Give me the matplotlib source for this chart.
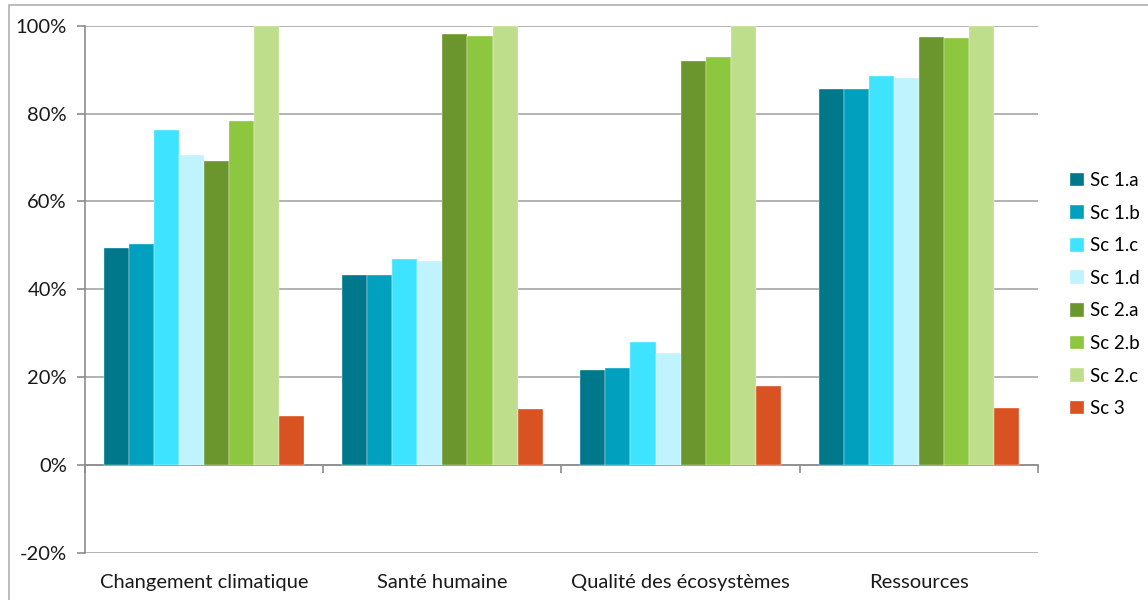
import numpy as np
import matplotlib
matplotlib.use("Agg")
import matplotlib.pyplot as plt
from matplotlib.ticker import PercentFormatter

# Donnees (en %)
categories = ['Changement climatique', 'Santé humaine', 'Qualité des écosystèmes', 'Ressources']
series = ['Sc 1.a', 'Sc 1.b', 'Sc 1.c', 'Sc 1.d', 'Sc 2.a', 'Sc 2.b', 'Sc 2.c', 'Sc 3']
sc1a = [49.3, 43.2, 21.7, 85.6]
sc1b = [50.4, 43.2, 22.0, 85.6]
sc1c = [76.2, 47.0, 28.1, 88.6]
sc1d = [70.5, 46.4, 25.5, 88.1]
sc2a = [69.2, 98.2, 92.0, 97.5]
sc2b = [78.4, 97.6, 92.8, 97.2]
sc2c = [100.0, 100.0, 100.0, 100.0]
sc3 = [11.2, 12.8, 17.9, 12.9]
valeurs = [sc1a, sc1b, sc1c, sc1d, sc2a, sc2b, sc2c, sc3]
couleurs = ['#00788C', '#00A0BE', '#3DE3FF', '#BFF4FF',
            '#6B962E', '#8DC63F', '#BEDE8C', '#D95221']

plt.rcParams['font.family'] = ['Lato', 'DejaVu Sans']
plt.rcParams['axes.unicode_minus'] = False

fig = plt.figure(figsize=(11.48, 6.0), dpi=100)
ax = fig.add_axes([0.0740, 0.0783, 0.8302, 0.8789])

# cadre du graphique
cadre = plt.Rectangle((9 / 1148, -0.05), 1.2, 1 - 5 / 600 + 0.05, transform=fig.transFigure,
                      fill=False, edgecolor='#b0b0b0', linewidth=1.2)
fig.patches.append(cadre)

x = np.arange(len(categories))
w = 1 / 9.5
for i, (nom, vals) in enumerate(zip(series, valeurs)):
    ax.bar(x + (i - 3.5) * w, vals, width=w, color=couleurs[i], label=nom,
           edgecolor='white', linewidth=0.25, zorder=3)

ax.set_xlim(-0.5, 3.5)
ax.set_ylim(-20, 100)
ax.set_yticks(np.arange(-20, 101, 20))
ax.yaxis.set_major_formatter(PercentFormatter(decimals=0))
ax.grid(axis='y', color='#a6a6a6', linewidth=1.2, zorder=0)
ax.set_axisbelow(True)

for s in ['top', 'right']:
    ax.spines[s].set_visible(False)
ax.spines['left'].set_color('#8c8c8c')
ax.spines['left'].set_linewidth(1.2)
ax.spines['bottom'].set_position(('data', 0))
ax.spines['bottom'].set_color('#8c8c8c')
ax.spines['bottom'].set_linewidth(1.2)

ax.set_xticks(np.arange(-0.5, 3.6, 1.0))
ax.set_xticklabels([])
ax.tick_params(axis='x', direction='out', length=6, color='#8c8c8c', width=1.2)
ax.tick_params(axis='y', direction='out', length=6, color='#8c8c8c', width=1.2,
               labelsize=14.5, pad=7, labelcolor='#1a1a1a')

for xi, cat in zip(x, categories):
    ax.text(xi, -0.055, cat, transform=ax.get_xaxis_transform(),
            ha='center', va='center', fontsize=14.5, color='#1a1a1a')

ax.legend(loc='center left', bbox_to_anchor=(1.016, 0.49), frameon=False,
          fontsize=13.5, handlelength=0.75, handleheight=0.75, labelspacing=0.83,
          handletextpad=0.3)

fig.savefig('out.png', dpi=100)
